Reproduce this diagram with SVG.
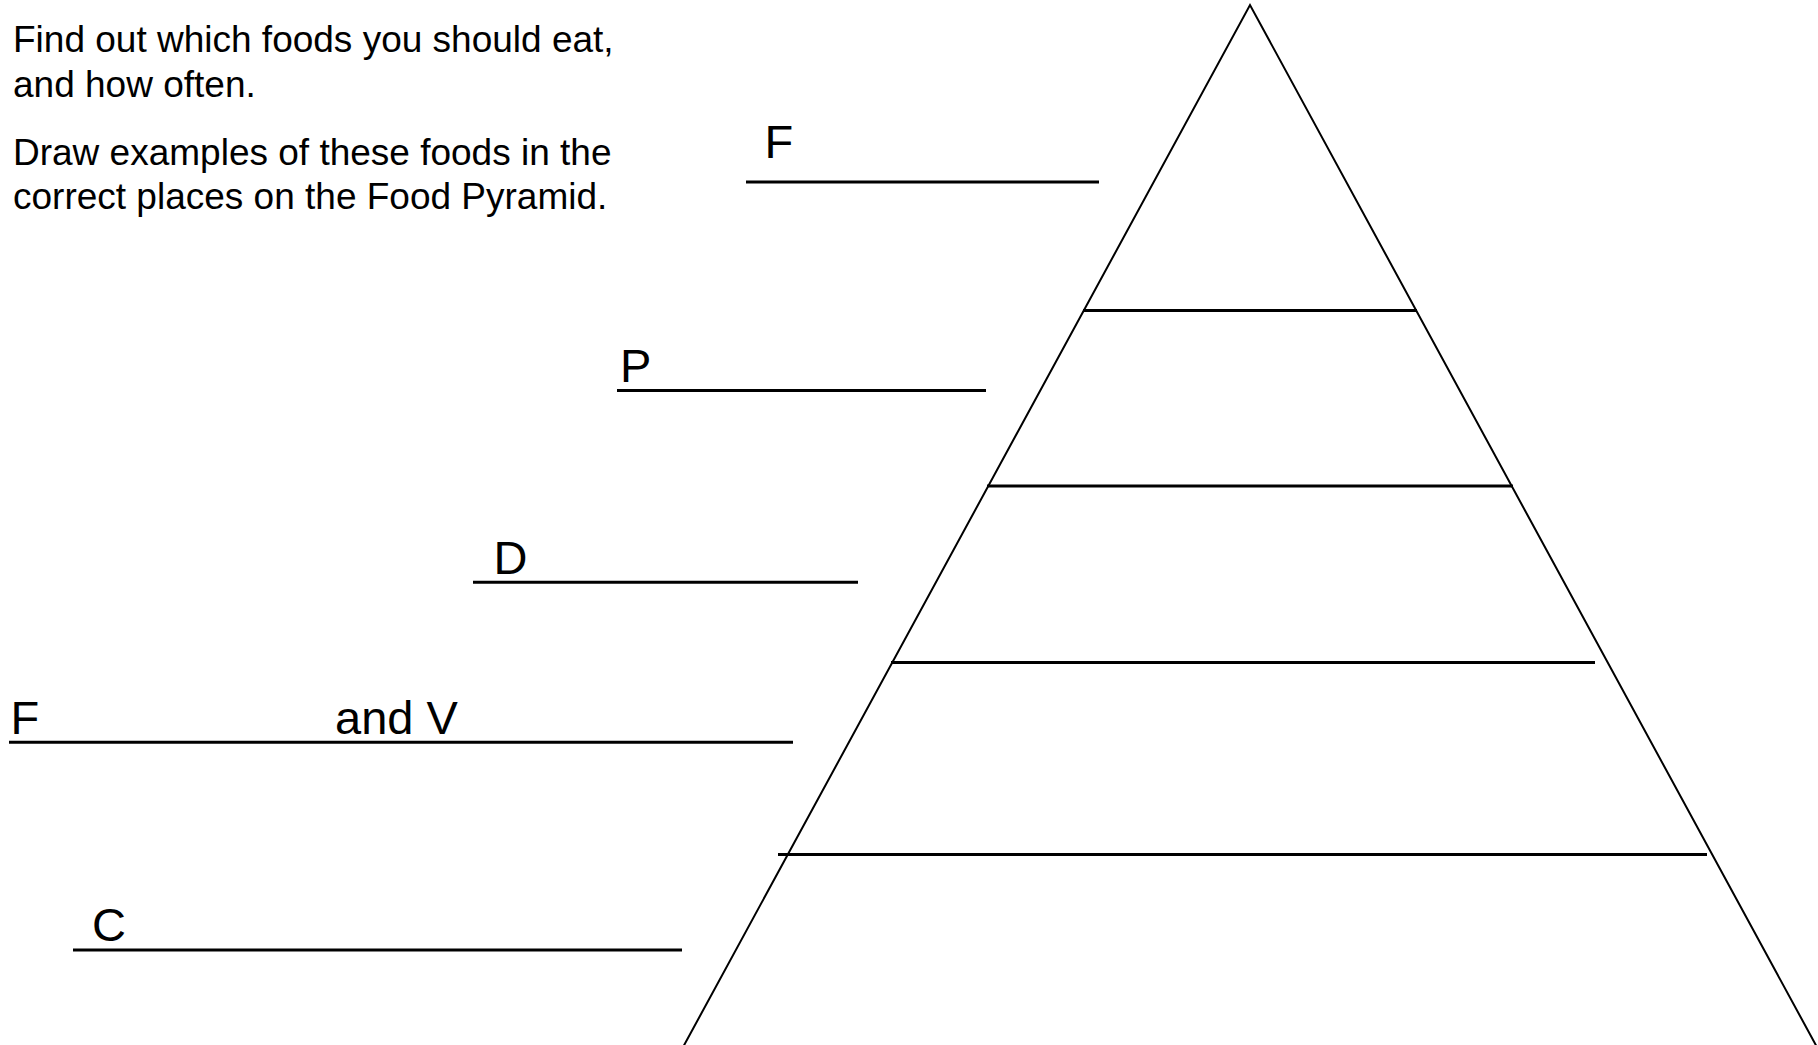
<svg xmlns="http://www.w3.org/2000/svg" width="1818" height="1045" viewBox="0 0 1818 1045">
<style>
text{font-family:"Liberation Sans",Arial,sans-serif;fill:#000}
.intro{font-size:37px}
.lbl{font-size:47px}
.rule{stroke:#000;stroke-width:3;fill:none}
.edge{stroke:#000;stroke-width:2;fill:none}
</style>
<rect width="1818" height="1045" fill="#fff"/>
<g id="instructions">
<text class="intro" x="13" y="52">Find out which foods you should eat,</text>
<text class="intro" x="13" y="97">and how often.</text>
<text class="intro" x="13" y="165">Draw examples of these foods in the</text>
<text class="intro" x="13" y="209">correct places on the Food Pyramid.</text>
</g>
<g id="pyramid">
<polyline class="edge" points="682,1049 1250,5 1818,1049"/>
<line class="rule" x1="1083" y1="310.5" x2="1417" y2="310.5"/>
<line class="rule" x1="987" y1="486" x2="1513" y2="486"/>
<line class="rule" x1="891" y1="662.5" x2="1595" y2="662.5"/>
<line class="rule" x1="778" y1="854.5" x2="1707" y2="854.5"/>
</g>
<g id="label-fats">
<text class="lbl" x="764.5" y="158.3">F</text>
<line class="rule" x1="746" y1="182" x2="1099" y2="182"/>
</g>
<g id="label-protein">
<text class="lbl" x="620" y="382.3">P</text>
<line class="rule" x1="617" y1="390.5" x2="986" y2="390.5"/>
</g>
<g id="label-dairy">
<text class="lbl" x="493.5" y="574">D</text>
<line class="rule" x1="473" y1="582.3" x2="858" y2="582.3"/>
</g>
<g id="label-fruit-veg">
<text class="lbl" x="10.5" y="734.3">F</text>
<text class="lbl" x="335" y="734.3">and V</text>
<line class="rule" x1="9" y1="742.3" x2="793" y2="742.3"/>
</g>
<g id="label-carbs">
<text class="lbl" x="92" y="941">C</text>
<line class="rule" x1="73" y1="950" x2="682" y2="950"/>
</g>
</svg>
